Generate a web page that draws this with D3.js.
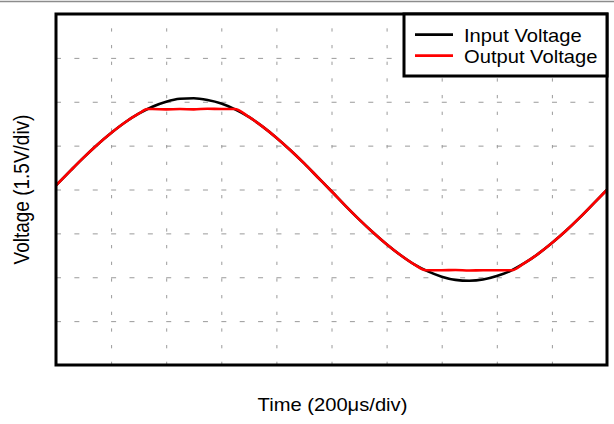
<!DOCTYPE html>
<html>
<head>
<meta charset="utf-8">
<script src="https://cdn.jsdelivr.net/npm/d3@7"></script>
<style>
  body { margin: 0; background: #fff; }
  text { font-family: "Liberation Sans", Arial, sans-serif; fill: #000; }
</style>
</head>
<body>
<svg id="chart"></svg>
<script>
// time in microseconds, voltage in volts (1.5 V/div, 200 us/div)
const inputTime = [0, 50, 100, 150, 200, 250, 300, 350, 400, 450, 500, 550, 600, 650, 700, 750, 800, 850, 900, 950,
  1000, 1050, 1100, 1150, 1200, 1250, 1300, 1350, 1400, 1450, 1500, 1550, 1600, 1650, 1700, 1750, 1800, 1850, 1900, 1950, 2000];
const inputVoltage = [0.14, 0.62, 1.09, 1.53, 1.93, 2.29, 2.59, 2.83, 3.00, 3.10, 3.12, 3.06, 2.94, 2.74, 2.48, 2.15, 1.77, 1.35, 0.90, 0.42,
  -0.06, -0.55, -1.02, -1.46, -1.87, -2.24, -2.56, -2.80, -2.98, -3.09, -3.12, -3.08, -2.96, -2.78, -2.52, -2.20, -1.83, -1.42, -0.97, -0.49, -0.01];

const outputTime = [0, 50, 100, 150, 200, 250, 300, 332, 350, 400, 450, 500, 550, 600, 648, 700, 750, 800, 850, 900, 950,
  1000, 1050, 1100, 1150, 1200, 1250, 1300, 1342, 1400, 1450, 1500, 1550, 1600, 1654, 1700, 1750, 1800, 1850, 1900, 1950, 2000];
const outputVoltage = [0.14, 0.62, 1.09, 1.53, 1.93, 2.29, 2.59, 2.75, 2.75, 2.74, 2.75, 2.74, 2.76, 2.75, 2.75, 2.48, 2.15, 1.77, 1.35, 0.90, 0.42,
  -0.06, -0.55, -1.02, -1.46, -1.87, -2.24, -2.56, -2.76, -2.76, -2.75, -2.77, -2.76, -2.76, -2.76, -2.52, -2.20, -1.83, -1.42, -0.97, -0.49, -0.01];

const xGridTicks = [200, 400, 600, 800, 1000, 1200, 1400, 1600, 1800];
const yGridTicks = [-4.5, -3, -1.5, 0, 1.5, 3, 4.5];
const seriesNames = ["Input Voltage", "Output Voltage"];
const seriesColors = ["#000000", "#ff0000"];

class ScopeChart {
  constructor(_config) {
    this.config = {
      parentElement: _config.parentElement,
      containerWidth: 614,
      containerHeight: 424,
      margin: { top: 14, bottom: 59, right: 7, left: 56 }
    };
    this.initVis();
  }

  initVis() {
    let vis = this;
    vis.width = vis.config.containerWidth - vis.config.margin.left - vis.config.margin.right;
    vis.height = vis.config.containerHeight - vis.config.margin.top - vis.config.margin.bottom;

    vis.svg = d3.select(vis.config.parentElement)
      .attr('width', vis.config.containerWidth)
      .attr('height', vis.config.containerHeight);

    // thin grey rule along the very top of the picture
    vis.svg.append('line')
      .attr('x1', 0).attr('x2', vis.config.containerWidth)
      .attr('y1', 1.5).attr('y2', 1.5)
      .attr('stroke', '#8c8c8c')
      .attr('stroke-width', 1.5);

    vis.chart = vis.svg.append('g')
      .attr('transform', `translate(${vis.config.margin.left},${vis.config.margin.top})`);

    vis.xScale = d3.scaleLinear().domain([0, 2000]).range([0, vis.width]);
    vis.yScale = d3.scaleLinear().domain([-6, 6]).range([vis.height, 0]);

    this.updateVis();
  }

  updateVis() {
    let vis = this;

    // grid: vertical lines drawn bottom-up, horizontal lines left-to-right
    vis.chart.append('g')
      .attr('class', 'grid x-grid')
      .attr('transform', `translate(0,${vis.height})`)
      .call(d3.axisBottom(vis.xScale).tickValues(xGridTicks).tickSize(-vis.height).tickFormat(''))
      .call(g => g.select('.domain').remove())
      .selectAll('line')
      .attr('stroke', '#9a9a9a')
      .attr('stroke-dasharray', '3.3 13.37');

    vis.chart.append('g')
      .attr('class', 'grid y-grid')
      .call(d3.axisLeft(vis.yScale).tickValues(yGridTicks).tickSize(-vis.width).tickFormat(''))
      .call(g => g.select('.domain').remove())
      .selectAll('line')
      .attr('stroke', '#9a9a9a')
      .attr('stroke-dasharray', '5 13.37');

    const line = d3.line()
      .x(d => vis.xScale(d[0]))
      .y(d => vis.yScale(d[1]))
      .curve(d3.curveMonotoneX);

    const series = [
      d3.zip(inputTime, inputVoltage),
      d3.zip(outputTime, outputVoltage)
    ];

    vis.chart.selectAll('.trace')
      .data(series)
      .join('path')
      .attr('class', 'trace')
      .attr('fill', 'none')
      .attr('stroke', (d, i) => seriesColors[i])
      .attr('stroke-width', 2.6)
      .attr('stroke-linejoin', 'round')
      .attr('d', line);

    // frame
    vis.chart.append('rect')
      .attr('width', vis.width)
      .attr('height', vis.height)
      .attr('fill', 'none')
      .attr('stroke', '#000')
      .attr('stroke-width', 3);

    // legend box in the upper right corner
    const legend = vis.chart.append('g')
      .attr('transform', `translate(${vis.width - 203},0)`);
    legend.append('rect')
      .attr('width', 203)
      .attr('height', 62)
      .attr('fill', '#fff')
      .attr('stroke', '#000')
      .attr('stroke-width', 3);
    seriesNames.forEach((name, i) => {
      legend.append('line')
        .attr('x1', 11).attr('x2', 49)
        .attr('y1', 20.7 + i * 21).attr('y2', 20.7 + i * 21)
        .attr('stroke', seriesColors[i])
        .attr('stroke-width', 2.8);
      legend.append('text')
        .attr('transform', `translate(60,${28 + i * 20.5}) scale(1.12,1)`)
        .style('font-size', '18px')
        .text(name);
    });

    // axis titles
    vis.svg.append('text')
      .attr('transform', `translate(${vis.config.margin.left + vis.width / 2 + 1},411) scale(1.12,1)`)
      .attr('text-anchor', 'middle')
      .style('font-size', '18px')
      .text('Time (200\u03bcs/div)');

    vis.svg.append('text')
      .attr('transform', `translate(29,${vis.config.margin.top + vis.height / 2}) scale(1.12,1) rotate(-90)`)
      .attr('text-anchor', 'middle')
      .style('font-size', '19px')
      .text('Voltage (1.5V/div)');
  }
}

new ScopeChart({ parentElement: '#chart' });
</script>
</body>
</html>
